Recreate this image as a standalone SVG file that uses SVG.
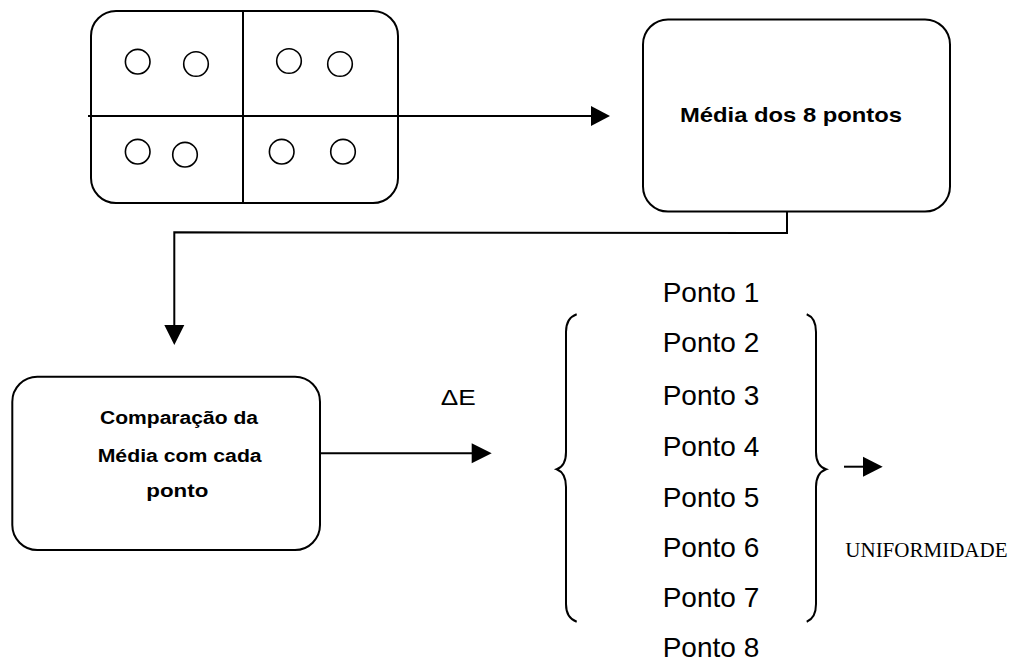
<svg xmlns="http://www.w3.org/2000/svg" width="1010" height="660" viewBox="0 0 1010 660">
<defs>
<style>
.box{fill:#fff;stroke:#000;stroke-width:2}
.ln{fill:none;stroke:#000;stroke-width:2}
.pt{fill:none;stroke:#000;stroke-width:1.6}
.hd{fill:#000;stroke:none}
.b{font-family:"Liberation Sans",Arial,sans-serif;font-weight:bold;fill:#000}
.r{font-family:"Liberation Sans",Arial,sans-serif;fill:#000}
.t{font-family:"Liberation Serif","Times New Roman",serif;fill:#000}
</style>
</defs>
<rect width="1010" height="660" fill="#fff"/>
<g id="amostra">
<rect class="box" x="91" y="11" width="307" height="192" rx="25" ry="25"/>
<line class="ln" x1="243" y1="11" x2="243" y2="203"/>
<circle class="pt" cx="137.7" cy="61.7" r="12.3"/>
<circle class="pt" cx="196" cy="64" r="12.3"/>
<circle class="pt" cx="289" cy="61" r="12.3"/>
<circle class="pt" cx="340" cy="64" r="12.3"/>
<circle class="pt" cx="137.7" cy="151.7" r="12.3"/>
<circle class="pt" cx="185" cy="154.7" r="12.3"/>
<circle class="pt" cx="281.7" cy="151.7" r="12.3"/>
<circle class="pt" cx="343" cy="151.7" r="12.3"/>
</g>
<g id="media">
<rect class="box" x="643" y="19.5" width="307" height="192" rx="25" ry="25"/>
<text class="b" x="791" y="122" font-size="21" text-anchor="middle" textLength="222" lengthAdjust="spacingAndGlyphs">Média dos 8 pontos</text>
</g>
<g id="comparacao">
<rect class="box" x="12.3" y="376.7" width="307.7" height="173.3" rx="25" ry="25"/>
<text class="b" x="179" y="424.3" font-size="18" text-anchor="middle" textLength="158" lengthAdjust="spacingAndGlyphs">Comparação da</text>
<text class="b" x="179.7" y="461.7" font-size="18" text-anchor="middle" textLength="164" lengthAdjust="spacingAndGlyphs">Média com cada</text>
<text class="b" x="177.3" y="496.7" font-size="18" text-anchor="middle" textLength="62" lengthAdjust="spacingAndGlyphs">ponto</text>
</g>
<g id="pontos">
<text class="r" x="662.7" y="302.3" font-size="28">Ponto 1</text>
<text class="r" x="662.7" y="352.3" font-size="28">Ponto 2</text>
<text class="r" x="662.7" y="405" font-size="28">Ponto 3</text>
<text class="r" x="662.7" y="455.7" font-size="28">Ponto 4</text>
<text class="r" x="662.7" y="507.3" font-size="28">Ponto 5</text>
<text class="r" x="662.7" y="557.3" font-size="28">Ponto 6</text>
<text class="r" x="662.7" y="607.3" font-size="28">Ponto 7</text>
<text class="r" x="662.7" y="656.5" font-size="28">Ponto 8</text>
<path class="ln" d="M576.7,314.3 Q566,318 566,332 L566,452 Q566,466 556.7,469.3 Q566,473 566,487 L566,604 Q566,618 576.7,621.7"/>
<path class="ln" d="M806.7,314.3 Q816,318 816,332 L816,452 Q816,466 826,469.3 Q816,473 816,487 L816,604 Q816,618 806.7,621.7"/>
</g>
<g id="labels">
<text class="r" x="440.7" y="405" font-size="22" textLength="35" lengthAdjust="spacingAndGlyphs">ΔE</text>
<text class="t" x="845.3" y="557" font-size="21">UNIFORMIDADE</text>
</g>
<g id="connectors">
<line class="ln" x1="88" y1="116" x2="593" y2="116"/>
<polygon class="hd" points="591,106 610,116 591,126"/>
<polyline class="ln" points="787,211.5 787,233 174.3,232.3 174.3,327"/>
<polygon class="hd" points="164.3,325 184.3,325 174.3,345"/>
<line class="ln" x1="320" y1="453.3" x2="473" y2="453.3"/>
<polygon class="hd" points="471.7,443.3 491.7,453.3 471.7,463.3"/>
<line class="ln" x1="844" y1="466.7" x2="865" y2="466.7"/>
<polygon class="hd" points="863,456.7 882.7,466.7 863,476.7"/>
</g>
</svg>
